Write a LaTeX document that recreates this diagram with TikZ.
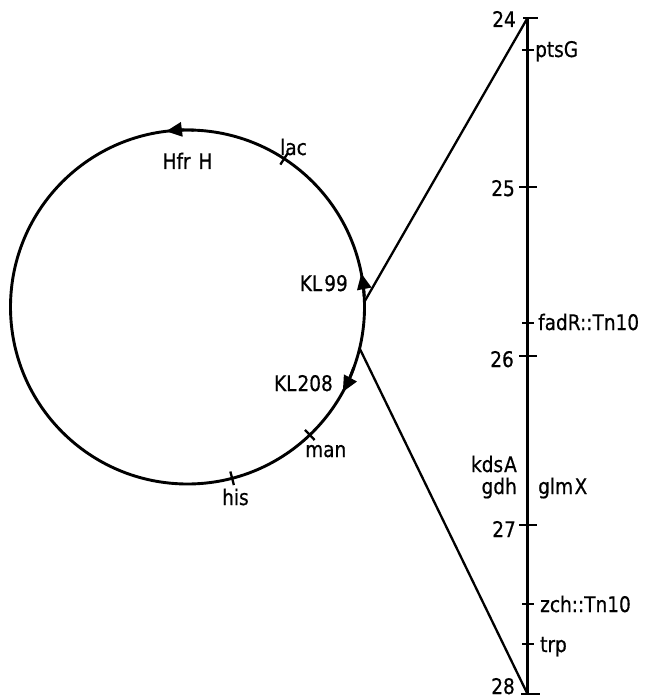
\documentclass[tikz,border=0pt]{standalone}
\usepackage{fontspec}
\setmainfont{DejaVu Sans}[FakeStretch=0.86,FakeBold=0.6]
\usetikzlibrary{arrows.meta}
\begin{document}
\begin{tikzpicture}[x=1pt,y=1pt,
  lbl/.style={font=\fontsize{21.5}{21.5}\selectfont, inner sep=0pt},
  ring/.style={line width=2.9pt},
  axisline/.style={line width=3.3pt},
  link/.style={line width=2.3pt},
  tickmark/.style={line width=2.3pt},
  dirarrow/.style={line width=2.9pt, -{Triangle[length=16pt,width=14pt]}}]
\useasboundingbox (0,0) rectangle (644,-700);
% circle
\coordinate (C) at (187.5,-307);
\draw[ring] (C) circle[radius=177pt];
% direction arrows
\draw[dirarrow] (C) ++(88:177pt) arc[start angle=88, end angle=97, radius=177pt];
\draw[dirarrow] (C) ++(3.5:177pt) arc[start angle=3.5, end angle=11, radius=177pt];
\draw[dirarrow] (C) ++(-20:177pt) arc[start angle=-20, end angle=-28.7, radius=177pt];
% circle ticks
\foreach \a/\n in {56.9/lac, -46.3/man, -75.4/his}{
  \path (C) ++(\a:170pt) coordinate (\n i);
  \path (C) ++(\a:184pt) coordinate (\n o);
  \draw[tickmark] (\n i) -- (\n o);
}
% labels on the circle
\node[lbl, anchor=base] (hfr) at (187.5,-169) {Hfr\kern2pt~H};
\node[lbl, anchor=base west] (lac) at (280,-155) {lac};
\node[lbl, anchor=base east] (kl99) at (348,-291) {KL\kern2pt 99};
\node[lbl, anchor=base east] (kl208) at (333,-391) {KL\kern1pt 208};
\node[lbl, anchor=base west] (man) at (305,-457) {man};
\node[lbl, anchor=base west] (his) at (222,-505) {his};
% axis
\coordinate (ax24) at (527.5,-18);
\coordinate (ax28) at (527.5,-694);
\draw[axisline] (ax24) -- (ax28);
% major ticks
\draw[tickmark] (523,-18) -- (538,-18);
\foreach \y in {187,356,525}{ \draw[tickmark] (519,-\y) -- (537,-\y); }
\draw[tickmark] (521,-694) -- (540,-694);
% minor ticks
\foreach \y in {50,323,604,644}{ \draw[tickmark] (522,-\y) -- (534,-\y); }
% numbers
\node[lbl, anchor=base east] (n24) at (516,-27) {24};
\node[lbl, anchor=base east] (n25) at (515,-196) {25};
\node[lbl, anchor=base east] (n26) at (514,-367) {26};
\node[lbl, anchor=base east] (n27) at (516,-537) {27};
\node[lbl, anchor=base east] (n28) at (515,-694) {28};
% gene labels
\node[lbl, anchor=base west] (ptsg) at (535,-57) {ptsG};
\node[lbl, anchor=base west] (fadr) at (538,-330) {fadR::Tn10};
\node[lbl, anchor=base east] (kdsa) at (517,-472) {kds\kern1pt A};
\node[lbl, anchor=base east] (gdh) at (517,-494) {gdh};
\node[lbl, anchor=base west] (glmx) at (538,-494) {glm\kern1.5pt X};
\node[lbl, anchor=base west] (zch) at (540,-612) {zch::Tn10};
\node[lbl, anchor=base west] (trp) at (540,-652) {trp};
% connecting lines
\path (C) ++(1.7:177pt) coordinate (up);
\path (C) ++(-13.5:177pt) coordinate (lo);
\draw[link] (up) -- (ax24);
\draw[link] (lo) -- (ax28);
\end{tikzpicture}
\end{document}
